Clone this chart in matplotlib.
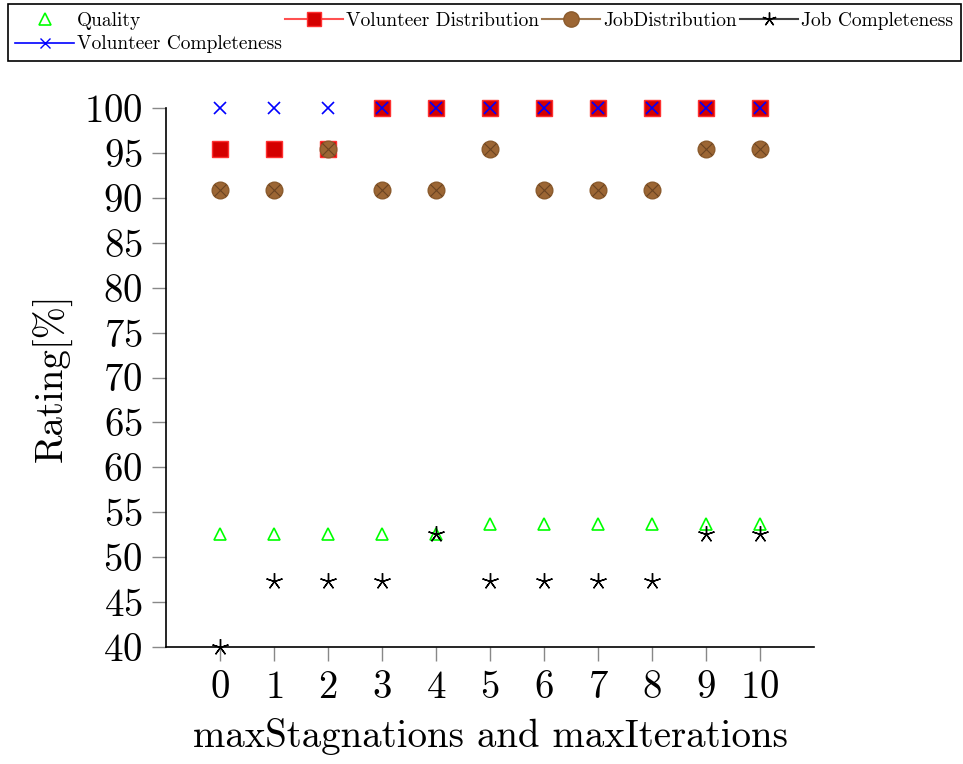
import numpy as np
import matplotlib.pyplot as plt
from matplotlib.lines import Line2D

plt.rcParams['font.family'] = 'cmr10'
plt.rcParams['axes.formatter.use_mathtext'] = True

x = np.arange(0, 11)
quality = [52.63, 52.63, 52.63, 52.63, 52.63, 53.7, 53.7, 53.7, 53.7, 53.7, 53.7]
vol_dist = [95.45, 95.45, 95.45, 100, 100, 100, 100, 100, 100, 100, 100]
job_dist = [90.91, 90.91, 95.45, 90.91, 90.91, 95.45, 90.91, 90.91, 90.91, 95.45, 95.45]
job_comp = [40.0, 47.37, 47.37, 47.37, 52.63, 47.37, 47.37, 47.37, 47.37, 52.63, 52.63]
vol_comp = [100] * 11

brown = '#9c6634'
star = (5, 2, 0)

fig = plt.figure(figsize=(9.63, 7.64), dpi=100)
ax = fig.add_axes([0.1724, 0.1531, 0.6729, 0.7055])

ax.plot(x, quality, ls='none', marker='^', ms=9, mfc='none', mec='#00ff00', mew=1.2, clip_on=False)
ax.plot(x, vol_dist, ls='none', marker='s', ms=11, mfc='#d40000', mec='#ff3030', mew=1, clip_on=False)
ax.plot(x, job_dist, ls='none', marker='o', ms=12, mfc=brown, mec='#8a5a2c', mew=1, clip_on=False)
ax.plot(x, job_dist, ls='none', marker='x', ms=8, mec='#6b4422', mew=0.8, clip_on=False)
ax.plot(x, job_comp, ls='none', marker=star, ms=12, mec='black', mew=1.0, clip_on=False)
ax.plot(x, vol_comp, ls='none', marker='x', ms=8, mec='#0000ff', mew=1.2, clip_on=False)

ax.set_xlim(-1, 11)
ax.set_ylim(40, 100)
ax.set_xticks(x)
ax.set_yticks(np.arange(40, 101, 5))
ax.spines['top'].set_visible(False)
ax.spines['right'].set_visible(False)
ax.spines['left'].set_linewidth(1.2)
ax.spines['bottom'].set_linewidth(1.2)
ax.tick_params(axis='both', direction='out', length=10, width=1, color='#888888', labelsize=28)
ax.tick_params(axis='y', pad=7)
ax.tick_params(axis='x', pad=7)

ax.set_xlabel('maxStagnations and maxIterations', fontsize=28, labelpad=8)
ax.set_ylabel('Rating[%]', fontsize=28, labelpad=8)

h_quality = Line2D([], [], ls='none', marker='^', ms=8, mfc='none', mec='#00ff00', mew=1.2)
h_vd = Line2D([], [], color='#ff5050', lw=1.5, marker='s', ms=10, mfc='#d40000', mec='#ff3030')
h_jd = Line2D([], [], color='#a07850', lw=1.5, marker='o', ms=11, mfc=brown, mec='#8a5a2c')
h_jc = Line2D([], [], color='#404040', lw=1.5, marker=star, ms=10, mec='black')
h_vc = Line2D([], [], color='#0000ff', lw=1.2, marker='x', ms=7, mec='#0000ff')

handles = [h_quality, h_vc, h_vd, h_jd, h_jc]
labels = ['Quality', 'Volunteer Completeness', 'Volunteer Distribution', 'JobDistribution', 'Job Completeness']
leg = fig.legend(handles, labels, loc='upper left', bbox_to_anchor=(0.008, 0.995, 0.99, 0.0),
                 ncol=4, mode='expand', fontsize=14, frameon=True, fancybox=False,
                 edgecolor='black', framealpha=1, handlelength=3.0, handletextpad=0.15,
                 columnspacing=0.1, borderaxespad=0, labelspacing=0.3, borderpad=0.4)
leg.get_frame().set_linewidth(1.2)

fig.savefig('out.png', dpi=100)
